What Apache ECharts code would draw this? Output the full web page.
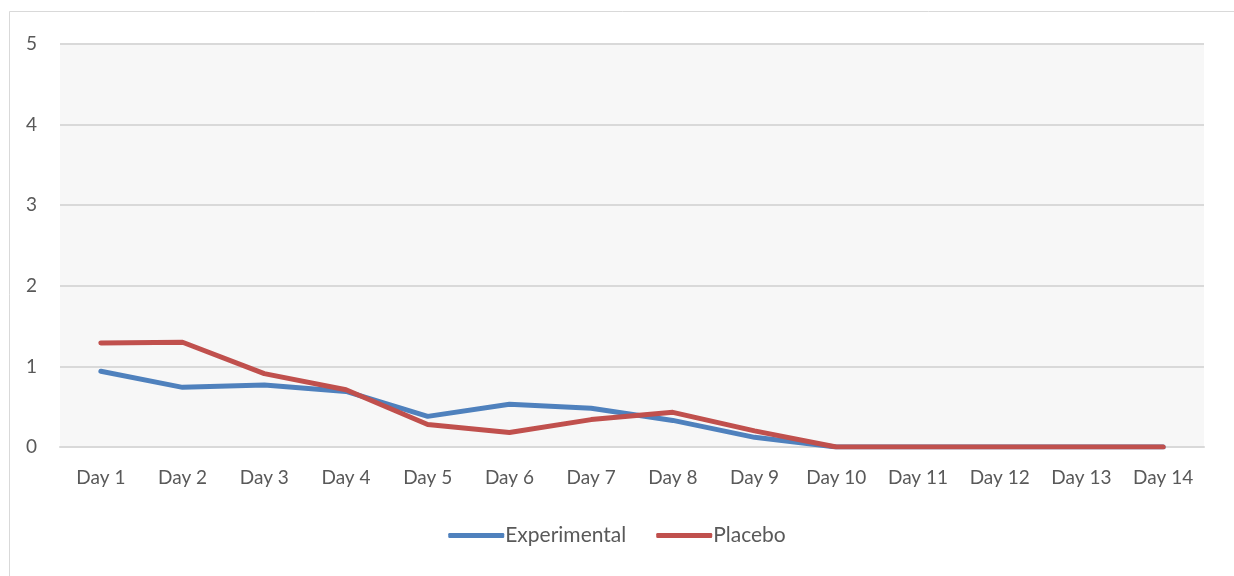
<!DOCTYPE html>
<html>
<head>
<meta charset="utf-8">
<script src="https://cdn.jsdelivr.net/npm/echarts@6/dist/echarts.min.js"></script>
<style>
  html, body { margin: 0; padding: 0; background: #fff; }
  #chart { width: 1234px; height: 576px; }
</style>
</head>
<body>
<div id="chart"></div>
<script>
const days = ['Day 1', 'Day 2', 'Day 3', 'Day 4', 'Day 5', 'Day 6', 'Day 7',
  'Day 8', 'Day 9', 'Day 10', 'Day 11', 'Day 12', 'Day 13', 'Day 14'];
const experimental = [0.94, 0.74, 0.77, 0.69, 0.38, 0.53, 0.48, 0.33, 0.12, 0, 0, 0, 0, 0];
const placebo = [1.29, 1.30, 0.91, 0.71, 0.28, 0.18, 0.34, 0.43, 0.20, 0, 0, 0, 0, 0];
const yTicks = [0, 1, 2, 3, 4, 5];

const chart = echarts.init(document.getElementById('chart'));
const font = 'Lato, "Open Sans", sans-serif';

const option = {
  animation: false,
  backgroundColor: '#fff',
  textStyle: { fontFamily: font },
  graphic: [{
    type: 'rect',
    left: 7, top: 9,
    shape: { width: 1240, height: 580 },
    style: { fill: 'none', stroke: '#d9d9d9', lineWidth: 1 },
    silent: true
  }],
  grid: {
    left: 60, right: 30, top: 44, bottom: 129,
    show: true, backgroundColor: '#f7f7f7', borderWidth: 0
  },
  legend: {
    bottom: 25,
    left: 'center',
    itemWidth: 56,
    itemHeight: 5,
    itemGap: 30,
    icon: 'roundRect',
    textStyle: { fontSize: 21, color: '#595959', fontFamily: font, padding: [0, 0, 0, -4] },
    data: ['Experimental', 'Placebo']
  },
  xAxis: {
    type: 'category',
    data: days,
    boundaryGap: true,
    axisLine: { show: true, lineStyle: { color: '#d9d9d9', width: 2 } },
    axisTick: { show: false },
    axisLabel: { color: '#595959', fontSize: 19, margin: 21, fontFamily: font }
  },
  yAxis: {
    type: 'value',
    min: yTicks[0],
    max: yTicks[yTicks.length - 1],
    interval: 1,
    axisLine: { show: false },
    axisTick: { show: false },
    splitLine: { lineStyle: { color: '#d9d9d9', width: 2 } },
    axisLabel: { color: '#595959', fontSize: 19, margin: 23, fontFamily: font }
  },
  series: [
    {
      name: 'Experimental',
      type: 'line',
      data: experimental,
      showSymbol: false,
      symbol: 'none',
      color: '#4f81bd',
      lineStyle: { width: 5, cap: 'round', join: 'round' }
    },
    {
      name: 'Placebo',
      type: 'line',
      data: placebo,
      showSymbol: false,
      symbol: 'none',
      color: '#c0504d',
      lineStyle: { width: 5, cap: 'round', join: 'round' }
    }
  ]
};

chart.setOption(option);
</script>
</body>
</html>
